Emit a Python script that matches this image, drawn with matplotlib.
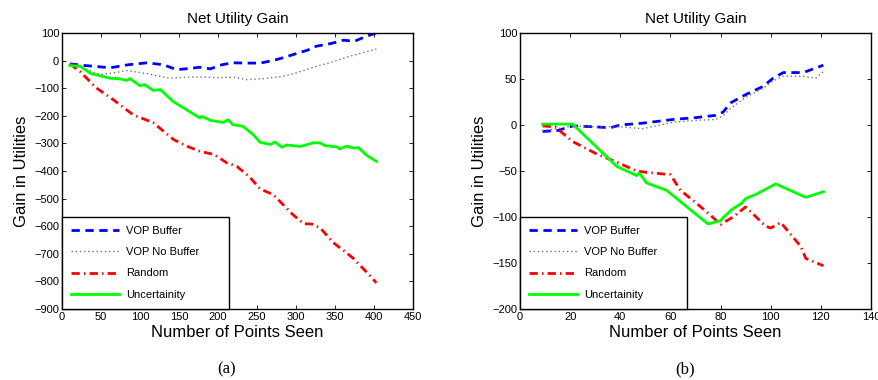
import matplotlib
matplotlib.use("Agg")
import matplotlib.pyplot as plt

plt.rcParams['font.family'] = ['Liberation Sans', 'DejaVu Sans']

labels = ['VOP Buffer', 'VOP No Buffer', 'Random', 'Uncertainity']

# panel (a)
a_buf_x = [10, 30, 62, 85, 109, 130, 147, 165, 177, 190, 205, 219, 237, 254, 270, 283, 300, 315, 326, 345, 361, 375, 390, 403]
a_buf_y = [-12, -18, -26, -15, -8, -15, -33, -28, -24, -30, -15, -8, -9, -9, 0, 10, 25, 38, 52, 62, 74, 70, 88, 100]
a_nob_x = [10, 30, 49, 65, 83, 110, 138, 160, 177, 200, 220, 237, 260, 283, 300, 326, 350, 369, 385, 403]
a_nob_y = [-15, -30, -51, -45, -36, -48, -64, -60, -59, -62, -60, -69, -65, -57, -45, -21, -2, 16, 28, 42]
a_rnd_x = [10, 23, 44, 65, 91, 117, 143, 160, 177, 195, 211, 224, 240, 254, 271, 296, 310, 320, 331, 348, 373, 391, 403]
a_rnd_y = [-12, -39, -99, -140, -196, -225, -286, -310, -329, -340, -370, -383, -420, -465, -486, -558, -591, -592, -606, -660, -715, -768, -805]
a_unc_x = [10, 23, 37, 62, 74, 83, 87, 100, 106, 117, 126, 143, 151, 177, 179, 191, 207, 213, 219, 232, 245, 254, 267, 273,
           282, 288, 306, 322, 331, 337, 353, 356, 365, 374, 380, 391, 403]
a_unc_y = [-18, -20, -47, -64, -66, -72, -65, -91, -87, -108, -105, -149, -163, -208, -202, -217, -224, -214, -232, -238, -268,
           -296, -304, -295, -314, -306, -311, -298, -298, -308, -313, -320, -310, -317, -315, -344, -365]

# panel (b)
b_buf_x = [9, 15, 21, 30, 36, 40, 49, 61, 70, 78, 81, 84, 90, 97, 101, 105, 113, 121]
b_buf_y = [-7, -6, -1, -2, -3, 0, 2, 6, 8, 10.5, 14, 24, 33, 42, 51, 57, 57, 65]
b_nob_x = [9, 15, 21, 30, 40, 49, 61, 70, 78, 81, 84, 90, 97, 101, 105, 113, 118, 121]
b_nob_y = [-6, -4, -1, -2, -2, -4, 3, 5, 6, 10, 18, 30, 40, 48, 53, 53, 51, 58]
b_rnd_x = [9, 14, 21, 30.6, 40, 46.5, 50.5, 60, 64, 69, 74.5, 80, 85, 90, 98, 100, 104, 112, 114, 121]
b_rnd_y = [-1, -2, -18, -31.5, -42, -50, -51.5, -54, -71, -82, -94.5, -108, -100, -89, -110, -112, -106, -132, -145, -153]
b_unc_x = [9, 21, 38.6, 46.5, 47.5, 50.5, 58.5, 67.8, 75, 80, 81.3, 84.4, 88.4, 90, 94.4, 102, 114, 121]
b_unc_y = [1, 1, -45, -55, -52, -63, -71, -91.7, -107.6, -104, -100, -92, -85, -80, -75, -64, -78.6, -72.5]

fig = plt.figure(figsize=(8.79, 3.80), dpi=100)
ax1 = fig.add_axes([62 / 879, 71 / 380, 351 / 879, 276 / 380])
ax2 = fig.add_axes([520 / 879, 71 / 380, 351 / 879, 276 / 380])


def draw(ax, series, xlim, ylim, xticks, yticks, caption):
    styles = [dict(color=(0, 0, 1), ls=(0, (3, 2)), lw=2),
              dict(color='0.45', ls=(0, (1, 2)), lw=1),
              dict(color=(1, 0, 0), ls=(0, (3, 1.5, 0.5, 1.5)), lw=2),
              dict(color=(0, 1, 0), ls='-', lw=2)]
    for (x, y), st, lab in zip(series, styles, labels):
        ax.plot(x, y, label=lab, **st)
    ax.set_xlim(*xlim)
    ax.set_ylim(*ylim)
    ax.set_xticks(xticks)
    ax.set_yticks(yticks)
    ax.tick_params(direction='in', top=True, right=True, labelsize=8, length=3, width=0.6, pad=2)
    for s in ax.spines.values():
        s.set_linewidth(1.0)
    ax.set_title('Net Utility Gain', fontsize=11, pad=7)
    ax.set_xlabel('Number of Points Seen', fontsize=12, labelpad=2)
    ax.set_ylabel('Gain in Utilities', fontsize=12, labelpad=4)
    leg = ax.legend(loc='lower left', bbox_to_anchor=(0, 0, 0.476, 0.34), mode='expand',
                    borderaxespad=0, fancybox=False, fontsize=8, handlelength=4.3,
                    handletextpad=0.6, labelspacing=1.0, borderpad=0.85, framealpha=1)
    leg.get_frame().set_edgecolor('black')
    leg.get_frame().set_linewidth(1.0)
    ax.text(0.47, -0.22, caption, transform=ax.transAxes, ha='center', va='center',
            fontsize=12, family='Liberation Serif')


draw(ax1, [(a_buf_x, a_buf_y), (a_nob_x, a_nob_y), (a_rnd_x, a_rnd_y), (a_unc_x, a_unc_y)],
     (0, 450), (-900, 100), range(0, 451, 50), range(-900, 101, 100), '(a)')
draw(ax2, [(b_buf_x, b_buf_y), (b_nob_x, b_nob_y), (b_rnd_x, b_rnd_y), (b_unc_x, b_unc_y)],
     (0, 140), (-200, 100), range(0, 141, 20), range(-200, 101, 50), '(b)')

fig.savefig('out.png', dpi=100)
